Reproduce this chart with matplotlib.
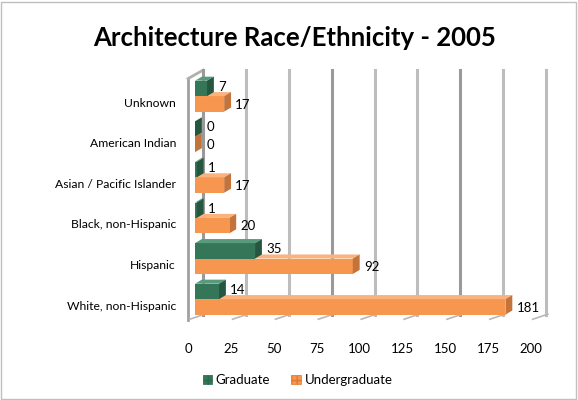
import numpy as np
import matplotlib.pyplot as plt
from matplotlib.patches import Polygon, Patch, Rectangle

plt.rcParams['font.family'] = ['Lato', 'DejaVu Sans']

categories = ['White, non-Hispanic', 'Hispanic', 'Black, non-Hispanic',
              'Asian / Pacific Islander', 'American Indian', 'Unknown']
graduate = [14, 35, 1, 1, 0, 7]
undergraduate = [181, 92, 20, 17, 0, 17]
ticks = [0, 25, 50, 75, 100, 125, 150, 175, 200]

green = ('#357558', '#5a9a7c', '#245640')
orange = ('#f7964f', '#fab27e', '#c4733b')

# depth of the 3d boxes in data units
DX, DY = 4.0, 0.1
FRONT, BACK = -4.1, 4.7


def box(ax, x, y0, h, cols):
    front, top, side = cols
    ax.add_patch(Polygon([(0, y0), (x, y0), (x, y0 + h), (0, y0 + h)],
                         closed=True, fc=front, ec='none', zorder=3))
    ax.add_patch(Polygon([(0, y0 + h), (x, y0 + h), (x + DX, y0 + h + DY),
                          (DX, y0 + h + DY)], closed=True, fc=top, ec='none', zorder=3))
    ax.add_patch(Polygon([(x, y0), (x + DX, y0 + DY), (x + DX, y0 + h + DY),
                          (x, y0 + h)], closed=True, fc=side, ec='none', zorder=3))


fig = plt.figure(figsize=(5.78, 4), dpi=100)
fig.add_artist(Rectangle((0.002, 0.003), 0.995, 0.993, transform=fig.transFigure,
                         fill=False, ec='#bfbfbf', lw=1))
ax = fig.add_axes([180 / 578, 1 - 330 / 400, 380 / 578, 270 / 400])
ax.set_xlim(-8.75, 212.8)
ax.set_ylim(-0.59, 6.06)
ax.axis('off')

y_front, y_back, y_top = -0.345, -0.22, 5.81

# walls and gridlines
ax.plot([FRONT, FRONT], [y_front, 5.6], color='#a0a0a0', lw=2, zorder=1)
ax.plot([FRONT, BACK], [5.6, y_top], color='#b0b0b0', lw=2, zorder=1)
for i, v in enumerate(ticks):
    c = '#9a9a9a' if i % 3 == 0 else '#bdbdbd'
    ax.plot([v + BACK, v + BACK], [y_back, y_top], color=c, lw=2.2, zorder=1)
    ax.plot([v + FRONT + 1, v + BACK + 1], [y_front + 0.02, y_back + 0.02],
            color='#b8b8b8', lw=1.2, zorder=1)
    ax.text(v + FRONT, -1.05, str(v), ha='center', va='center', fontsize=9.5)

h = 0.38
for i, (g, u) in enumerate(zip(graduate, undergraduate)):
    box(ax, u, i - 0.21, h, orange)
    box(ax, g, i + 0.17, h, green)
    ax.text(g + DX + 2.5, i + 0.4, str(g), va='center', fontsize=9.5, zorder=4)
    ax.text(u + DX + 2.5, i - 0.04, str(u), va='center', fontsize=9.5, zorder=4)
    ax.text(FRONT - 7, i, categories[i], ha='right', va='center', fontsize=8.7)

fig.text(0.51, 0.905, 'Architecture Race/Ethnicity - 2005', ha='center',
         va='center', fontsize=18.5, fontweight='bold')

handles = [Patch(fc=green[0], ec='#2a6a4c', hatch='+++', lw=0.5, label='Graduate'),
           Patch(fc=orange[0], ec='#e07a33', hatch='+++', lw=0.5, label='Undergraduate')]
fig.legend(handles=handles, loc='center', bbox_to_anchor=(0.515, 0.05), ncol=2,
           frameon=False, fontsize=9.5, handlelength=0.7, handleheight=0.7,
           handletextpad=0.3, columnspacing=1.6)

fig.savefig('out.png', dpi=100)
